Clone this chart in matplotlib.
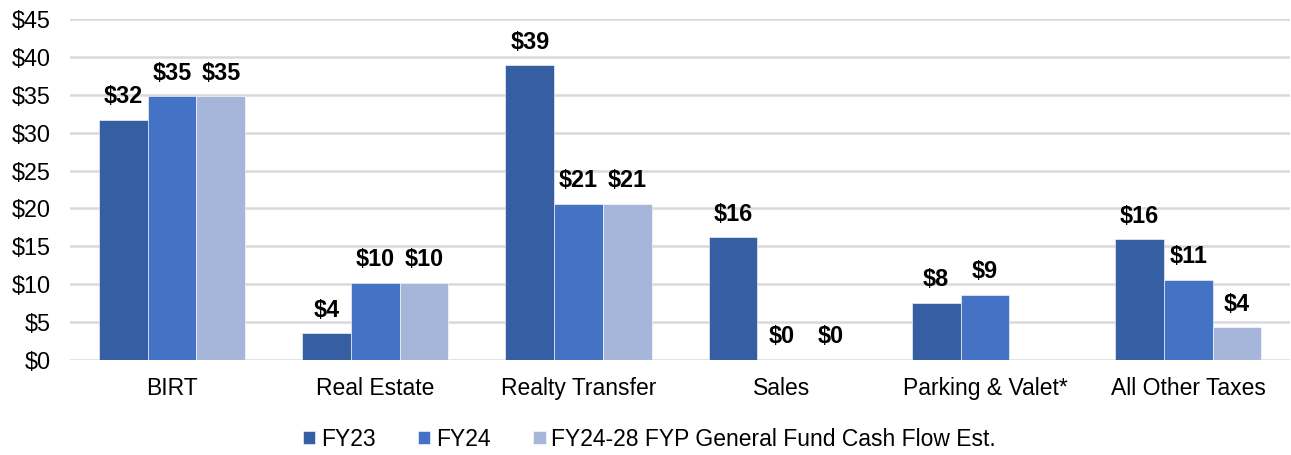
import matplotlib
matplotlib.use("Agg")
import matplotlib.pyplot as plt
import numpy as np

categories = ["BIRT", "Real Estate", "Realty Transfer", "Sales", "Parking & Valet*", "All Other Taxes"]
fy23 = [31.7, 3.5, 38.9, 16.2, 7.5, 15.9]
fy24 = [34.8, 10.2, 20.6, 0.0, 8.55, 10.6]
fyp = [34.8, 10.2, 20.6, 0.0, np.nan, 4.3]
series_names = ["FY23", "FY24", "FY24-28 FYP General Fund Cash Flow Est."]
colors = ["#365EA3", "#4472C4", "#A6B6DB"]
yticks = list(range(0, 50, 5))

plt.rcParams['font.family'] = ['Liberation Sans', 'DejaVu Sans']

fig = plt.figure(figsize=(12.91, 4.55), dpi=100)
ax = fig.add_axes([0.0546, 0.209, 0.9445, 0.749])

x = np.arange(len(categories))
w = 0.24
for i, (vals, name, c) in enumerate(zip([fy23, fy24, fyp], series_names, colors)):
    pos = x + (i - 1) * w
    v = np.array(vals, dtype=float)
    ax.bar(pos, np.nan_to_num(v), width=w, color=c, label=name, zorder=3,
           edgecolor='white', linewidth=0.4)
    for p, val in zip(pos, v):
        if np.isnan(val):
            continue
        ax.annotate(f"${val:.0f}", xy=(p, val), xytext=(0, 12), textcoords='offset points',
                    ha='center', va='baseline', fontsize=16.8, fontweight='bold', color='black')

ax.set_xlim(-0.5, len(categories) - 0.5)
ax.set_ylim(0, 45)
ax.set_yticks(yticks)
ax.set_yticklabels([f"${t}" for t in yticks], fontsize=16.8)
ax.set_xticks(x)
ax.set_xticklabels(categories, fontsize=16.5)
ax.tick_params(axis='both', length=0)
ax.tick_params(axis='x', pad=12)
ax.tick_params(axis='y', pad=14)
ax.grid(axis='y', color='#D9D9D9', linewidth=1.8, zorder=0)
for s in ax.spines.values():
    s.set_visible(False)

leg = fig.legend(loc='center', bbox_to_anchor=(0.503, 0.035), ncol=3, frameon=False,
                 fontsize=16.5, handlelength=0.55, handleheight=0.55,
                 handletextpad=0.25, columnspacing=1.85)

fig.savefig("out.png", dpi=100)
